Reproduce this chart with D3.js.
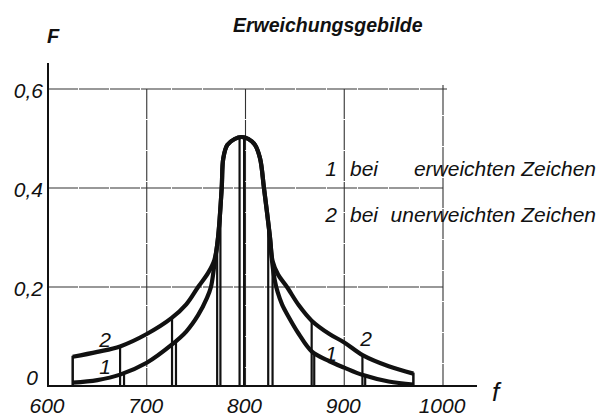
<!DOCTYPE html>
<html><head><meta charset="utf-8">
<script src="https://cdn.jsdelivr.net/npm/d3@7"></script>
<style>
body{margin:0;background:#fff}
svg{display:block}
text{font-family:"Liberation Sans",Arial,sans-serif;font-style:italic;fill:#111}
</style>
</head><body>
<svg id="c" width="604" height="417"></svg>
<script>
// ---------- data ----------
const title = "Erweichungsgebilde";
const yAxisLabel = "F";
const xAxisLabel = "f";
const xTicks = [600, 700, 800, 900, 1000];
const xTickLabels = ["600", "700", "800", "900", "1000"];
const yTicks = [0, 0.2, 0.4, 0.6];
const yTickLabels = ["0", "0,2", "0,4", "0,6"];

// shared peak (both curves coincide here)
const peakF = [772.2, 775.9, 777.5, 781.6, 789, 796, 803, 809.6, 814.7, 818.7, 824.8];
const peakV = [0.30, 0.40, 0.46, 0.487, 0.499, 0.503, 0.499, 0.487, 0.46, 0.40, 0.30];

// curve 2 (unerweicht) tails
const curve2LeftF = [625, 650, 673, 700, 725, 740, 752, 762, 768.5];
const curve2LeftV = [0.059, 0.069, 0.080, 0.105, 0.137, 0.165, 0.200, 0.228, 0.255];
const curve2RightF = [827.5, 833, 842, 854, 867, 885, 900, 919, 945, 970];
const curve2RightV = [0.252, 0.225, 0.200, 0.163, 0.132, 0.105, 0.088, 0.062, 0.040, 0.025];

// curve 1 (erweicht) tails
const curve1LeftF = [625, 650, 673, 700, 725, 740, 752, 761, 765, 768.5];
const curve1LeftV = [0.007, 0.012, 0.023, 0.047, 0.083, 0.110, 0.143, 0.178, 0.200, 0.245];
const curve1RightF = [827, 829.5, 832.5, 837, 843, 854, 867, 885, 900, 919, 945, 970];
const curve1RightV = [0.250, 0.215, 0.190, 0.165, 0.142, 0.105, 0.070, 0.050, 0.037, 0.022, 0.009, 0.003];

// vertical marker lines: tall ones reach curve 2, short ones reach curve 1
const tallLineF = [673, 725.6, 771.3, 794, 823, 867, 918.4];
const shortLineF = [677, 729.6, 774.6, 798.6, 827.4, 869.6, 921.2];

// curve labels
const curveLabelText = ["2", "1", "1", "2"];
const curveLabelF = [657.7, 657.7, 886.6, 922];
const curveLabelV = [0.095, 0.040, 0.065, 0.097];

// legend
const legendNums = ["1", "2"];
const legendWordA = ["bei", "bei"];
const legendWordB = ["erweichten Zeichen", "unerweichten Zeichen"];

// ---------- drawing ----------
const svg = d3.select("#c");
const x = d3.scaleLinear().domain([600, 1000]).range([48, 443]);
const y = d3.scaleLinear().domain([0, 0.6]).range([386, 89]);

const toPts = (F, V) => F.map((f, i) => [f, V[i]]);
const curve2 = toPts(curve2LeftF, curve2LeftV).concat(toPts(peakF, peakV), toPts(curve2RightF, curve2RightV));
const curve1 = toPts(curve1LeftF, curve1LeftV).concat(toPts(peakF, peakV), toPts(curve1RightF, curve1RightV));

// grid
const grid = svg.append("g").attr("stroke", "#333").attr("stroke-width", 1.1).attr("fill", "none");
yTicks.filter(v => v > 0).forEach(v => {
  grid.append("line").attr("x1", x(600)).attr("x2", v === 0.6 ? x(1000) + 4 : x(1000))
    .attr("y1", y(v)).attr("y2", y(v)).attr("stroke-dasharray", "30,1");
});
xTicks.filter(v => v > 600).forEach(v => {
  grid.append("line").attr("x1", x(v)).attr("x2", x(v))
    .attr("y1", v === 1000 ? y(0.6) - 4 : y(0.6)).attr("y2", y(0)).attr("stroke-dasharray", "30,1");
});

// axes
const ax = svg.append("g").attr("stroke", "#111").attr("stroke-width", 2).attr("fill", "none");
ax.append("line").attr("x1", x(600)).attr("x2", x(600)).attr("y1", y(0.6) - 26).attr("y2", y(0) + 1);
ax.append("line").attr("x1", x(600) - 1).attr("x2", x(1000) + 34).attr("y1", y(0)).attr("y2", y(0));

// curves
const line = d3.line().x(d => x(d[0])).y(d => y(d[1])).curve(d3.curveCatmullRom.alpha(0.5));
const p2 = svg.append("path").datum(curve2).attr("d", line)
  .attr("fill", "none").attr("stroke", "#111").attr("stroke-width", 4.2).attr("stroke-linejoin", "round");
const p1 = svg.append("path").datum(curve1).attr("d", line)
  .attr("fill", "none").attr("stroke", "#111").attr("stroke-width", 4.2).attr("stroke-linejoin", "round");

function yAtX(node, xt) {
  const L = node.getTotalLength();
  let lo = 0, hi = L;
  for (let k = 0; k < 40; k++) {
    const mid = (lo + hi) / 2;
    if (node.getPointAtLength(mid).x < xt) lo = mid; else hi = mid;
  }
  return node.getPointAtLength((lo + hi) / 2).y;
}

const vl = svg.append("g").attr("stroke", "#111").attr("stroke-width", 2.2);
tallLineF.forEach(f => {
  const xx = x(f);
  vl.append("line").attr("x1", xx).attr("x2", xx).attr("y1", yAtX(p2.node(), xx)).attr("y2", y(0));
});
shortLineF.forEach(f => {
  const xx = x(f);
  vl.append("line").attr("x1", xx).attr("x2", xx).attr("y1", yAtX(p1.node(), xx)).attr("y2", y(0));
});
// closing ends
[curve2LeftF[0], curve2RightF[curve2RightF.length - 1]].forEach(f => {
  const xx = x(f);
  svg.append("line").attr("x1", xx).attr("x2", xx).attr("y1", yAtX(p2.node(), xx) - 1).attr("y2", y(0) - 1)
    .attr("stroke", "#111").attr("stroke-width", 2.5);
});

// tick labels
svg.append("g").selectAll("text").data(yTicks).join("text")
  .attr("x", (d, i) => i === 0 ? 38 : 43).attr("y", d => y(d) + (d === 0 ? -1 : 9))
  .attr("text-anchor", "end").attr("font-size", 21).text((d, i) => yTickLabels[i]);
svg.append("g").selectAll("text").data(xTicks).join("text")
  .attr("x", d => x(d) - 1).attr("y", 413)
  .attr("text-anchor", "middle").attr("font-size", 21).text((d, i) => xTickLabels[i]);

// axis labels & title
svg.append("text").attr("x", 47).attr("y", 43).attr("font-size", 20).attr("font-weight", "bold").text(yAxisLabel);
svg.append("text").attr("x", 492).attr("y", 401).attr("font-size", 26).text(xAxisLabel);
svg.append("text").attr("x", 233).attr("y", 32).attr("font-size", 19.5).attr("font-weight", "bold").text(title);

// curve labels
svg.append("g").selectAll("text").data(curveLabelText).join("text")
  .attr("x", (d, i) => x(curveLabelF[i])).attr("y", (d, i) => y(curveLabelV[i]))
  .attr("dy", "0.36em").attr("text-anchor", "middle").attr("font-size", 21).text(d => d);

// legend
const lgY = [176, 222];
legendNums.forEach((n, i) => {
  svg.append("text").attr("x", 337).attr("y", lgY[i]).attr("text-anchor", "end").attr("font-size", 21).text(n);
  svg.append("text").attr("x", 350).attr("y", lgY[i]).attr("font-size", 21).text(legendWordA[i]);
  svg.append("text").attr("x", 596).attr("y", lgY[i]).attr("text-anchor", "end").attr("font-size", 21).text(legendWordB[i]);
});
</script>
</body></html>
